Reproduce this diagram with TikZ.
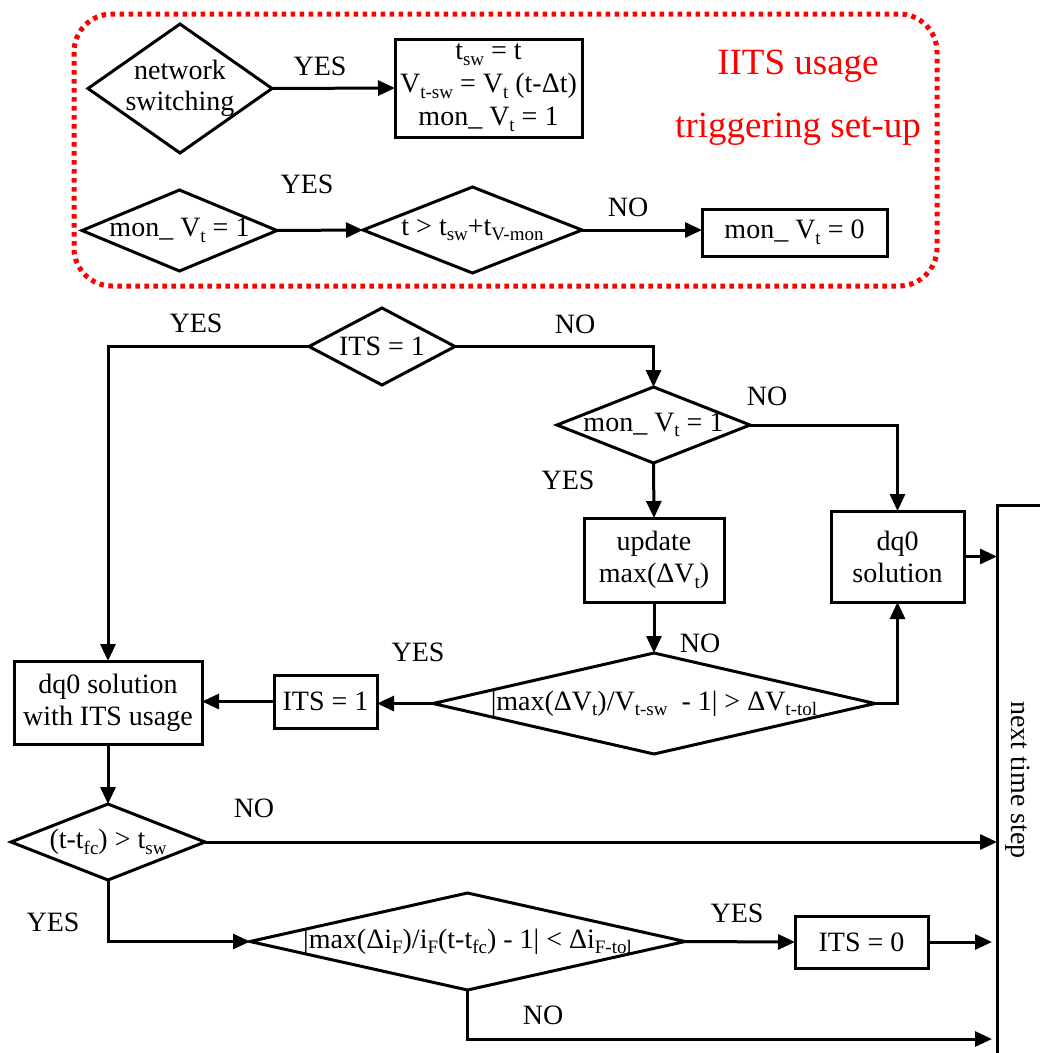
\documentclass[tikz,border=0pt]{standalone}
\usepackage{fontspec}
\setmainfont{Liberation Serif}
\usetikzlibrary{shapes.geometric,arrows.meta,calc}
% lowered, smaller index text
\newcommand\lo[1]{\raisebox{-0.2em}{\fontsize{19}{19}\selectfont #1}}

\begin{document}
\begin{tikzpicture}[x=1pt,y=-1pt,
  every node/.style={font=\fontsize{28}{32}\selectfont, inner sep=0pt, outer sep=0pt},
  box/.style={draw, line width=3pt, rectangle, align=center},
  dia/.style={draw, line width=3pt, diamond, line join=miter},
  txt/.style={align=center},
  ln/.style={line width=3pt, line join=miter},
  arr/.style={line width=3pt, -{Triangle[length=17pt,width=15pt]}},
  setup/.style={draw=red, line width=5pt, dash pattern=on 4.5pt off 4.5pt, rounded corners=38pt},
  redtxt/.style={text=red, font=\fontsize{37}{40}\selectfont, anchor=base},
]
\useasboundingbox (0,0) rectangle (1040,1053);

% ---- triggering set-up frame ----
\draw[setup] (74,14) rectangle (937,286);
\node[redtxt] (r1) at (798,74) {IITS usage};
\node[redtxt] (r2) at (798,137) {triggering set-up};

\node[dia, minimum width=184pt, minimum height=129pt] (ns) at (180,88.5) {};
\node[txt, font=\fontsize{28}{31}\selectfont] (nst) at (ns) {network\\switching};
\node[box, minimum width=187pt, minimum height=98pt, font=\fontsize{28}{33}\selectfont] (b1) at (488.5,88)
  {t\lo{sw} = t\\V\lo{t-sw} = V\lo{t} (t-Δt)\\mon\_ V\lo{t} = 1};

\node[dia, minimum width=195pt, minimum height=81pt] (m1) at (179.5,230.5) {};
\node (m1t) at (m1) {mon\_ V\lo{t} = 1};
\node[dia, minimum width=219pt, minimum height=86pt] (tv) at (472.5,230) {};
\node (tvt) at (tv) {t > t\lo{sw}+t\lo{V-mon}};
\node[box, minimum width=185pt, minimum height=47pt] (m0) at (794.5,232.5) {mon\_ V\lo{t} = 0};

\draw[arr] (ns.east) -- (b1.west);
\draw[arr] (m1.east) -- (tv.west);
\draw[arr] (tv.east) -- (tv.east -| m0.west);

\node (y1) at (320,66) {YES};
\node (y2) at (307,184) {YES};
\node (n1) at (628,207) {NO};

% ---- main procedure ----
\node[dia, minimum width=146pt, minimum height=77pt] (its) at (382,346.5) {};
\node (itst) at (its) {ITS = 1};
\node[dia, minimum width=193pt, minimum height=76pt] (mon) at (653.5,425) {};
\node (mont) at (mon) {mon\_ V\lo{t} = 1};
\node[box, minimum width=140pt, minimum height=84pt] (upd) at (654,560) {update\\max(ΔV\lo{t})};
\node[box, minimum width=133pt, minimum height=91pt] (dq) at (897.5,556.5) {dq0\\solution};
\node[dia, minimum width=442pt, minimum height=101pt] (big) at (654,703.5) {};
\node (bigt) at (big) {|max(ΔV\lo{t})/V\lo{t-sw}\ \ - 1| > ΔV\lo{t-tol}};
\node[box, minimum width=103pt, minimum height=53pt] (its1) at (325.5,701.5) {ITS = 1};
\node[box, minimum width=188pt, minimum height=83pt] (dqi) at (108,702.5) {dq0 solution\\with ITS usage};
\node[dia, minimum width=194pt, minimum height=76pt] (tf) at (108,842) {};
\node (tft) at (tf) {(t-t\lo{fc}) > t\lo{sw}};
\node[dia, minimum width=435pt, minimum height=97pt] (bot) at (467.5,941.5) {};
\node (bott) at (bot) {|max(Δi\lo{F})/i\lo{F}(t-t\lo{fc}) - 1| < Δi\lo{F-tol}};
\node[box, minimum width=133pt, minimum height=52pt] (its0) at (861.5,942) {ITS = 0};

% next time step rail
\coordinate (barend) at (1040,505);
\coordinate (bartop) at (997,505);
\coordinate (barbot) at (997,1053);
\coordinate (nojoin) at (997,1039);
\draw[ln] (barend) -- (bartop) -- (barbot);
\node[rotate=-90] (nts) at (1018,780) {next time step};

% connectors
\draw[arr] (its.west) -| (dqi.north);
\draw[arr] (its.east) -| (mon.north);
\draw[arr] (mon.east) -| (dq.north);
\draw[arr] (mon.south) -- (upd.north);
\draw[arr] (upd.south) -- (big.north);
\draw[arr] (big.east) -| (dq.south);
\draw[arr] (big.west) -- (big.west -| its1.east);
\draw[arr] (its1.west) -- (its1.west -| dqi.east);
\draw[arr] (dqi.south) -- (tf.north);
\draw[arr] (dq.east) -- (dq.east -| bartop);
\draw[arr] (tf.east) -- (tf.east -| bartop);
\draw[arr] (tf.south) |- (bot.west);
\draw[arr] (bot.east) -- (its0.west);
\draw[arr, shorten >=5pt] (its0.east) -- (its0.east -| bartop);
\draw[arr, shorten >=5pt] (bot.south) |- (nojoin);

% branch labels
\node (y3) at (196,323) {YES};
\node (n2) at (575,324) {NO};
\node (n3) at (767,396) {NO};
\node (y4) at (568,480) {YES};
\node (n4) at (700,643) {NO};
\node (y5) at (418,652) {YES};
\node (n5) at (254,808) {NO};
\node (y6) at (53,922) {YES};
\node (y7) at (737,913) {YES};
\node (n6) at (543,1015) {NO};
\end{tikzpicture}
\end{document}
